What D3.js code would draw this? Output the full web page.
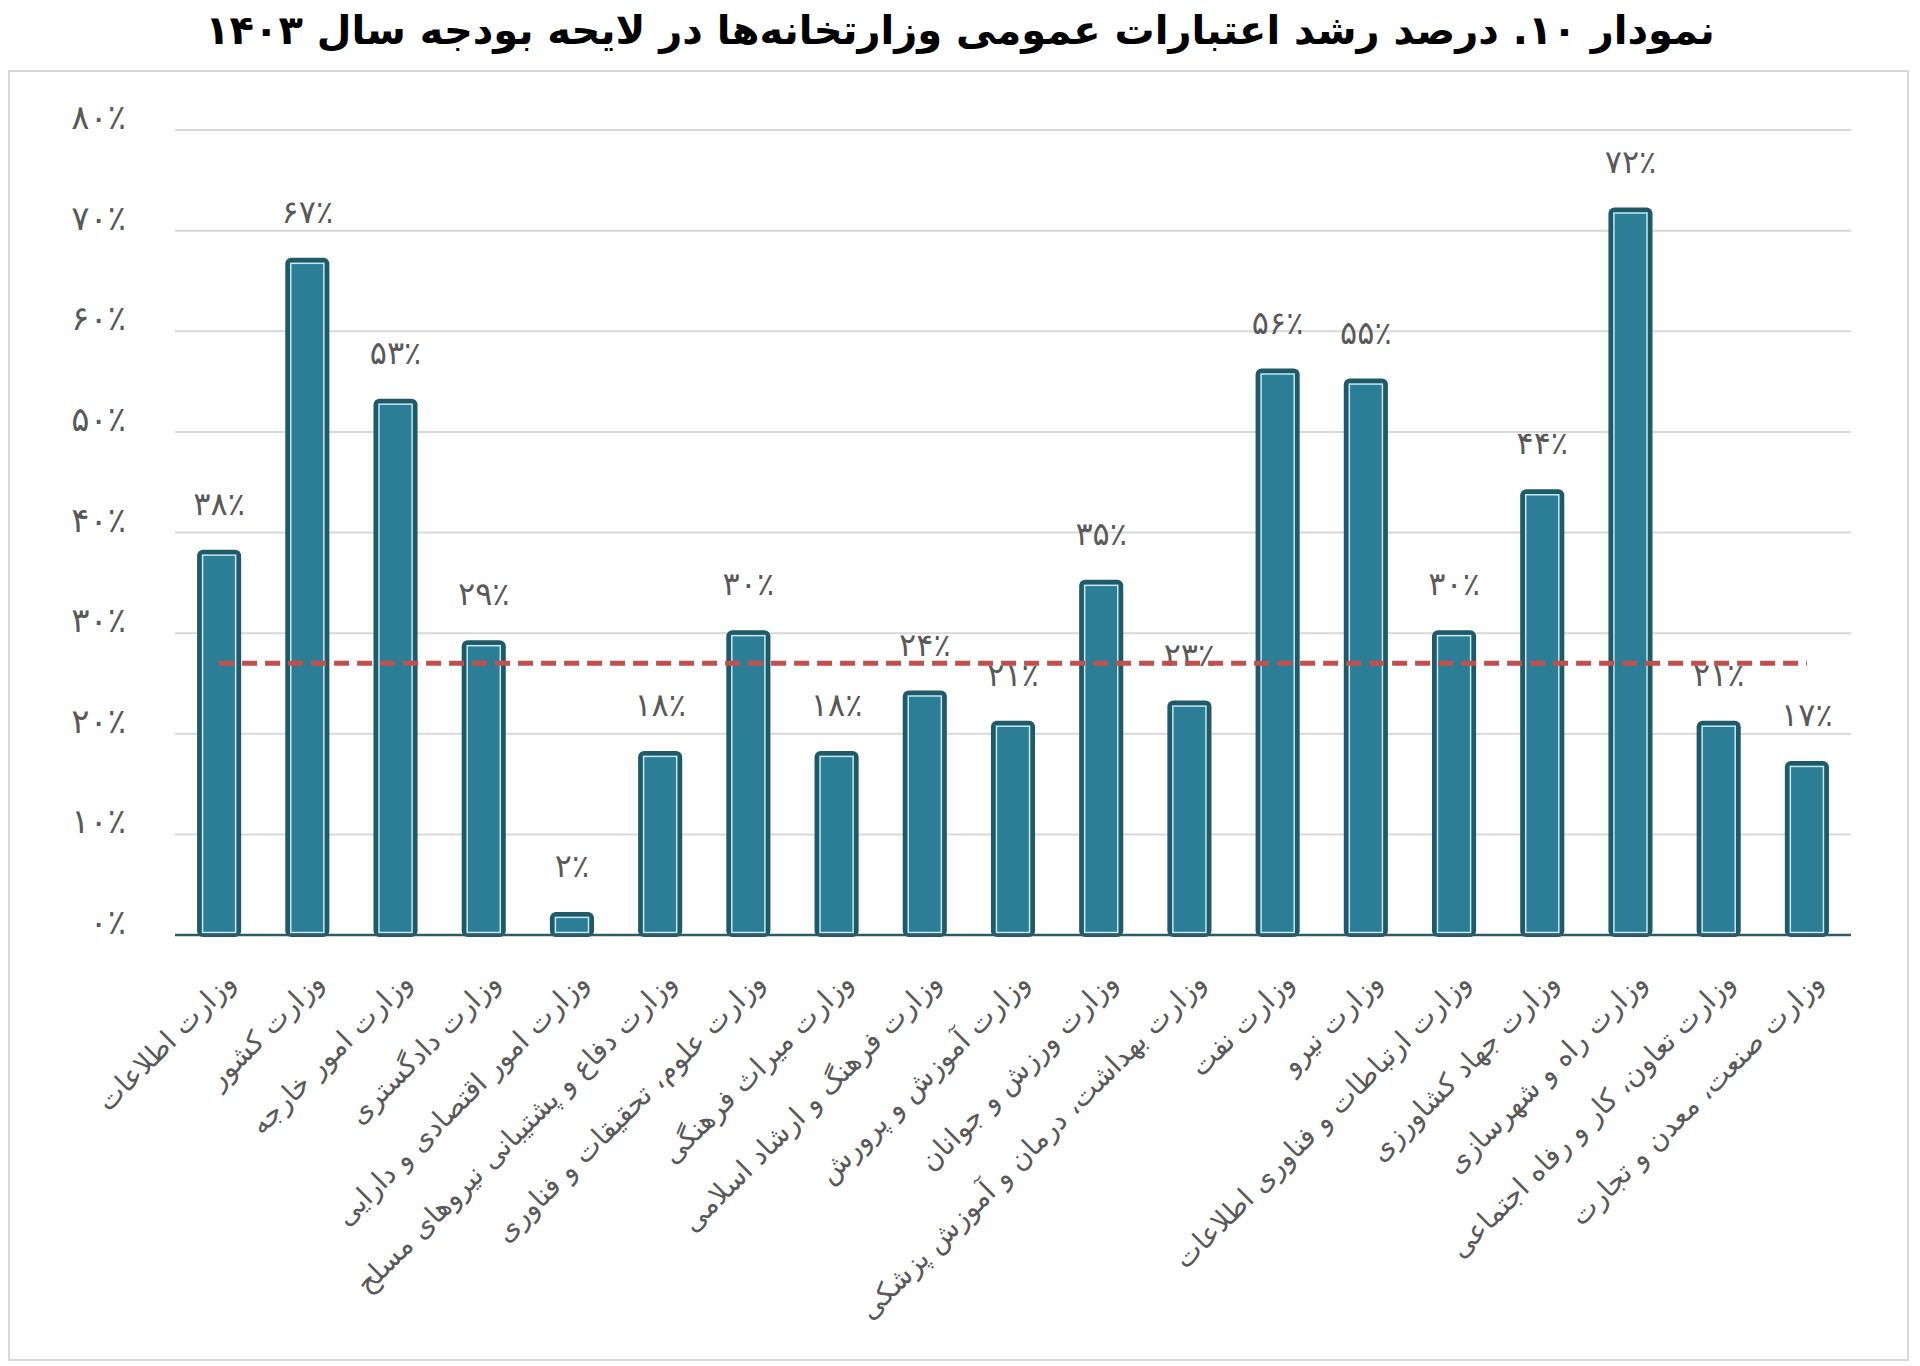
<!DOCTYPE html>
<html>
<head>
<meta charset="utf-8">
<script src="https://cdn.jsdelivr.net/npm/d3@7"></script>
<style>
  body { margin: 0; background: #fff; }
  text { font-family: "DejaVu Sans", "Noto Sans", sans-serif; }
</style>
</head>
<body>
<div id="chart"></div>
<script>
// chart data
const ministries = [
  "وزارت اطلاعات",
  "وزارت کشور",
  "وزارت امور خارجه",
  "وزارت دادگستری",
  "وزارت امور اقتصادی و دارایی",
  "وزارت دفاع و پشتیبانی نیروهای مسلح",
  "وزارت علوم، تحقیقات و فناوری",
  "وزارت میراث فرهنگی",
  "وزارت فرهنگ و ارشاد اسلامی",
  "وزارت آموزش و پرورش",
  "وزارت ورزش و جوانان",
  "وزارت بهداشت، درمان و آموزش پزشکی",
  "وزارت نفت",
  "وزارت نیرو",
  "وزارت ارتباطات و فناوری اطلاعات",
  "وزارت جهاد کشاورزی",
  "وزارت راه و شهرسازی",
  "وزارت تعاون، کار و رفاه اجتماعی",
  "وزارت صنعت، معدن و تجارت"
];
const growth = [38, 67, 53, 29, 2, 18, 30, 18, 24, 21, 35, 23, 56, 55, 30, 44, 72, 21, 17];
const average = [27, 27, 27, 27, 27, 27, 27, 27, 27, 27, 27, 27, 27, 27, 27, 27, 27, 27, 27];
const yTicks = [0, 10, 20, 30, 40, 50, 60, 70, 80];
const title = "نمودار ۱۰. درصد رشد اعتبارات عمومی وزارتخانه‌ها در لایحه بودجه سال ۱۴۰۳";

const W = 1920, H = 1366;
const fa = n => String(n).replace(/\d/g, d => "۰۱۲۳۴۵۶۷۸۹"[d]) + "٪";

const svg = d3.select("#chart").append("svg")
  .attr("width", W).attr("height", H);

// title
svg.append("text")
  .attr("x", W / 2).attr("y", 44)
  .attr("text-anchor", "middle")
  .attr("font-size", 40).attr("font-weight", "bold")
  .attr("fill", "#000")
  .text(title);

// frame
svg.append("rect")
  .attr("x", 9).attr("y", 71).attr("width", 1899).attr("height", 1289)
  .attr("fill", "none").attr("stroke", "#d9d9d9").attr("stroke-width", 2);

// scales
const x = d3.scaleBand()
  .domain(ministries)
  .range([175, 1851])
  .paddingInner(0.5).paddingOuter(0.25);
const y = d3.scaleLinear().domain([0, 80]).range([935, 130]);

// gridlines
svg.append("g")
  .selectAll("line")
  .data(yTicks.slice(1))
  .join("line")
  .attr("x1", 175).attr("x2", 1851)
  .attr("y1", d => y(d)).attr("y2", d => y(d))
  .attr("stroke", "#d9d9d9").attr("stroke-width", 2);

// y axis labels
svg.append("g")
  .selectAll("text")
  .data(yTicks)
  .join("text")
  .attr("x", 126).attr("y", d => y(d) - 1)
  .attr("text-anchor", "end")
  .attr("font-size", 34)
  .attr("fill", "#595959")
  .text(d => fa(d));

// bars
const bars = svg.append("g")
  .selectAll("g")
  .data(growth)
  .join("g");

bars.append("rect")
  .attr("x", (d, i) => x(ministries[i]))
  .attr("y", d => y(d) - 3)
  .attr("width", x.bandwidth())
  .attr("height", d => y(0) - y(d) + 5)
  .attr("rx", 6)
  .attr("fill", "#1f5a68");

bars.append("rect")
  .attr("x", (d, i) => x(ministries[i]) + 5.5)
  .attr("y", d => y(d) + 2.5)
  .attr("width", x.bandwidth() - 11)
  .attr("height", d => Math.max(0, y(0) - y(d) - 5))
  .attr("fill", "#2b7e96")
  .attr("stroke", "#c6e8f0").attr("stroke-width", 1.5);

// baseline
svg.append("line")
  .attr("x1", 175).attr("x2", 1851)
  .attr("y1", y(0)).attr("y2", y(0))
  .attr("stroke", "#2f5b66").attr("stroke-width", 2.5);

// value labels
svg.append("g")
  .selectAll("text")
  .data(growth)
  .join("text")
  .attr("x", (d, i) => x(ministries[i]) + x.bandwidth() / 2)
  .attr("y", d => y(d) - 38)
  .attr("text-anchor", "middle")
  .attr("font-size", 32)
  .attr("fill", "#595959")
  .text(d => fa(d));

// average line
const line = d3.line()
  .x((d, i) => x(ministries[i]) + x.bandwidth() / 2)
  .y(d => y(d));
svg.append("path")
  .datum(average)
  .attr("d", line)
  .attr("fill", "none")
  .attr("stroke", "#c0504d")
  .attr("stroke-width", 5)
  .attr("stroke-dasharray", "15,8");

// category labels
svg.append("g")
  .selectAll("text")
  .data(ministries)
  .join("text")
  .attr("transform", d => `translate(${x(d) + x.bandwidth() / 2 + 18}, 984) rotate(-45)`)
  .attr("text-anchor", "end")
  .attr("font-size", 28)
  .attr("fill", "#595959")
  .text(d => d);
</script>
</body>
</html>
